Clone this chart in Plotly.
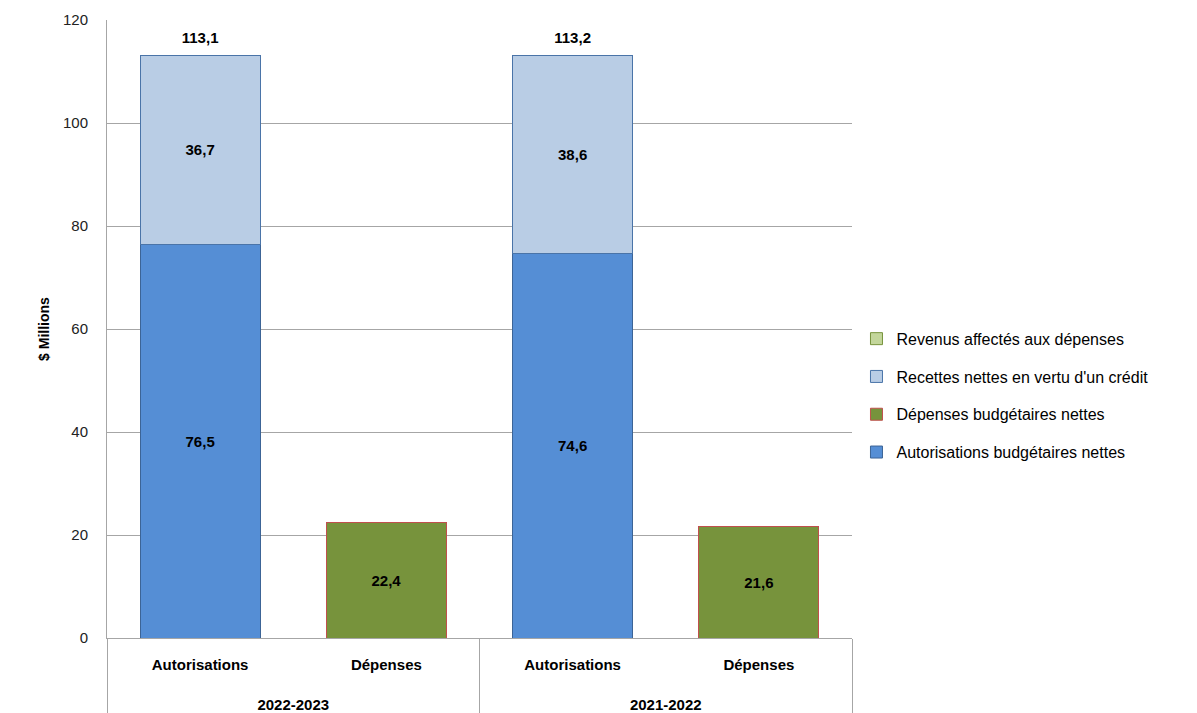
import plotly.graph_objects as go

# Axis categories (outer level = fiscal year, inner level = type)
years = ["2022-2023", "2022-2023", "2021-2022", "2021-2022"]
kinds = ["Autorisations", "Dépenses", "Autorisations", "Dépenses"]

# Series values ($ millions)
autorisations_nettes = [76.5, None, 74.6, None]
recettes_nettes = [36.7, None, 38.6, None]
depenses_nettes = [None, 22.4, None, 21.6]
revenus_affectes = [None, None, None, None]

# Totals shown above the authority bars
totaux = [113.1, None, 113.2, None]

def fmt(v):
    return "" if v is None else "<b>" + f"{v:.1f}".replace(".", ",") + "</b>"

FONT = "Liberation Sans"
x = [years, kinds]
label_font = dict(family=FONT, size=15, color="#000000")

fig = go.Figure()

fig.add_trace(go.Bar(
    name="Autorisations budgétaires nettes", x=x, y=autorisations_nettes,
    marker=dict(color="#558ED5", line=dict(color="#3C6496", width=1)),
    text=[fmt(v) for v in autorisations_nettes], legendgroup="a", legendrank=4,
))
fig.add_trace(go.Bar(
    name="Dépenses budgétaires nettes", x=x, y=depenses_nettes,
    marker=dict(color="#77933C", line=dict(color="#C0504D", width=1)),
    text=[fmt(v) for v in depenses_nettes], legendgroup="b", legendrank=3,
))
fig.add_trace(go.Bar(
    name="Recettes nettes en vertu d'un crédit", x=x, y=recettes_nettes,
    marker=dict(color="#B9CDE5", line=dict(color="#4A74A8", width=1)),
    text=[fmt(v) for v in recettes_nettes], legendgroup="c", legendrank=2,
))
fig.add_trace(go.Bar(
    name="Revenus affectés aux dépenses", x=x, y=revenus_affectes,
    marker=dict(color="#C3D69B", line=dict(color="#77933C", width=1)),
    legendgroup="d", legendrank=1,
))

fig.update_traces(
    selector=dict(type="bar"), textposition="inside", insidetextanchor="middle",
    textfont=label_font, textangle=0, constraintext="none",
)

# Totals above the stacked bars (transparent marker gives a little lift)
fig.add_trace(go.Scatter(
    x=x, y=totaux, mode="markers+text", text=[fmt(v) for v in totaux],
    marker=dict(size=12, opacity=0), textposition="top center",
    textfont=label_font, showlegend=False, hoverinfo="skip", cliponaxis=False,
))

fig.update_layout(
    width=1197, height=713,
    margin=dict(l=107, r=345, t=20, b=75),
    paper_bgcolor="white", plot_bgcolor="white",
    barmode="stack", bargap=0.355,
    font=dict(family=FONT, size=14, color="#000000"),
    showlegend=True,
    legend=dict(
        x=1.006, y=0.392, xanchor="left", yanchor="middle",
        font=dict(family=FONT, size=16, color="#000000"),
        tracegroupgap=14, traceorder="grouped",
        itemwidth=30,
    ),
)

fig.update_yaxes(
    range=[0, 120], dtick=20, showgrid=True, gridcolor="#A6A6A6", gridwidth=1,
    zeroline=False, showline=True, linecolor="#A6A6A6", linewidth=1,
    ticks="", ticklabelstandoff=15, tickfont=dict(family=FONT, size=15, color="#222222"),
    title=dict(text="<b>$ Millions</b>", font=dict(family=FONT, size=14, color="#000000"), standoff=10),
)
# Inner labels get an extra spacer line so the year row sits lower
fig.update_xaxes(
    type="multicategory", showline=True, linecolor="#A6A6A6", linewidth=1,
    showdividers=True, dividercolor="#A6A6A6", dividerwidth=1,
    tickfont=dict(family=FONT, size=15, color="#000000", weight="bold"),
    ticks="", showgrid=False, ticklabelstandoff=13, automargin=False,
    tickprefix="<b>", ticksuffix="</b><br><span style='font-size:45px'>&nbsp;</span>",
)

fig.write_html("out.html")
